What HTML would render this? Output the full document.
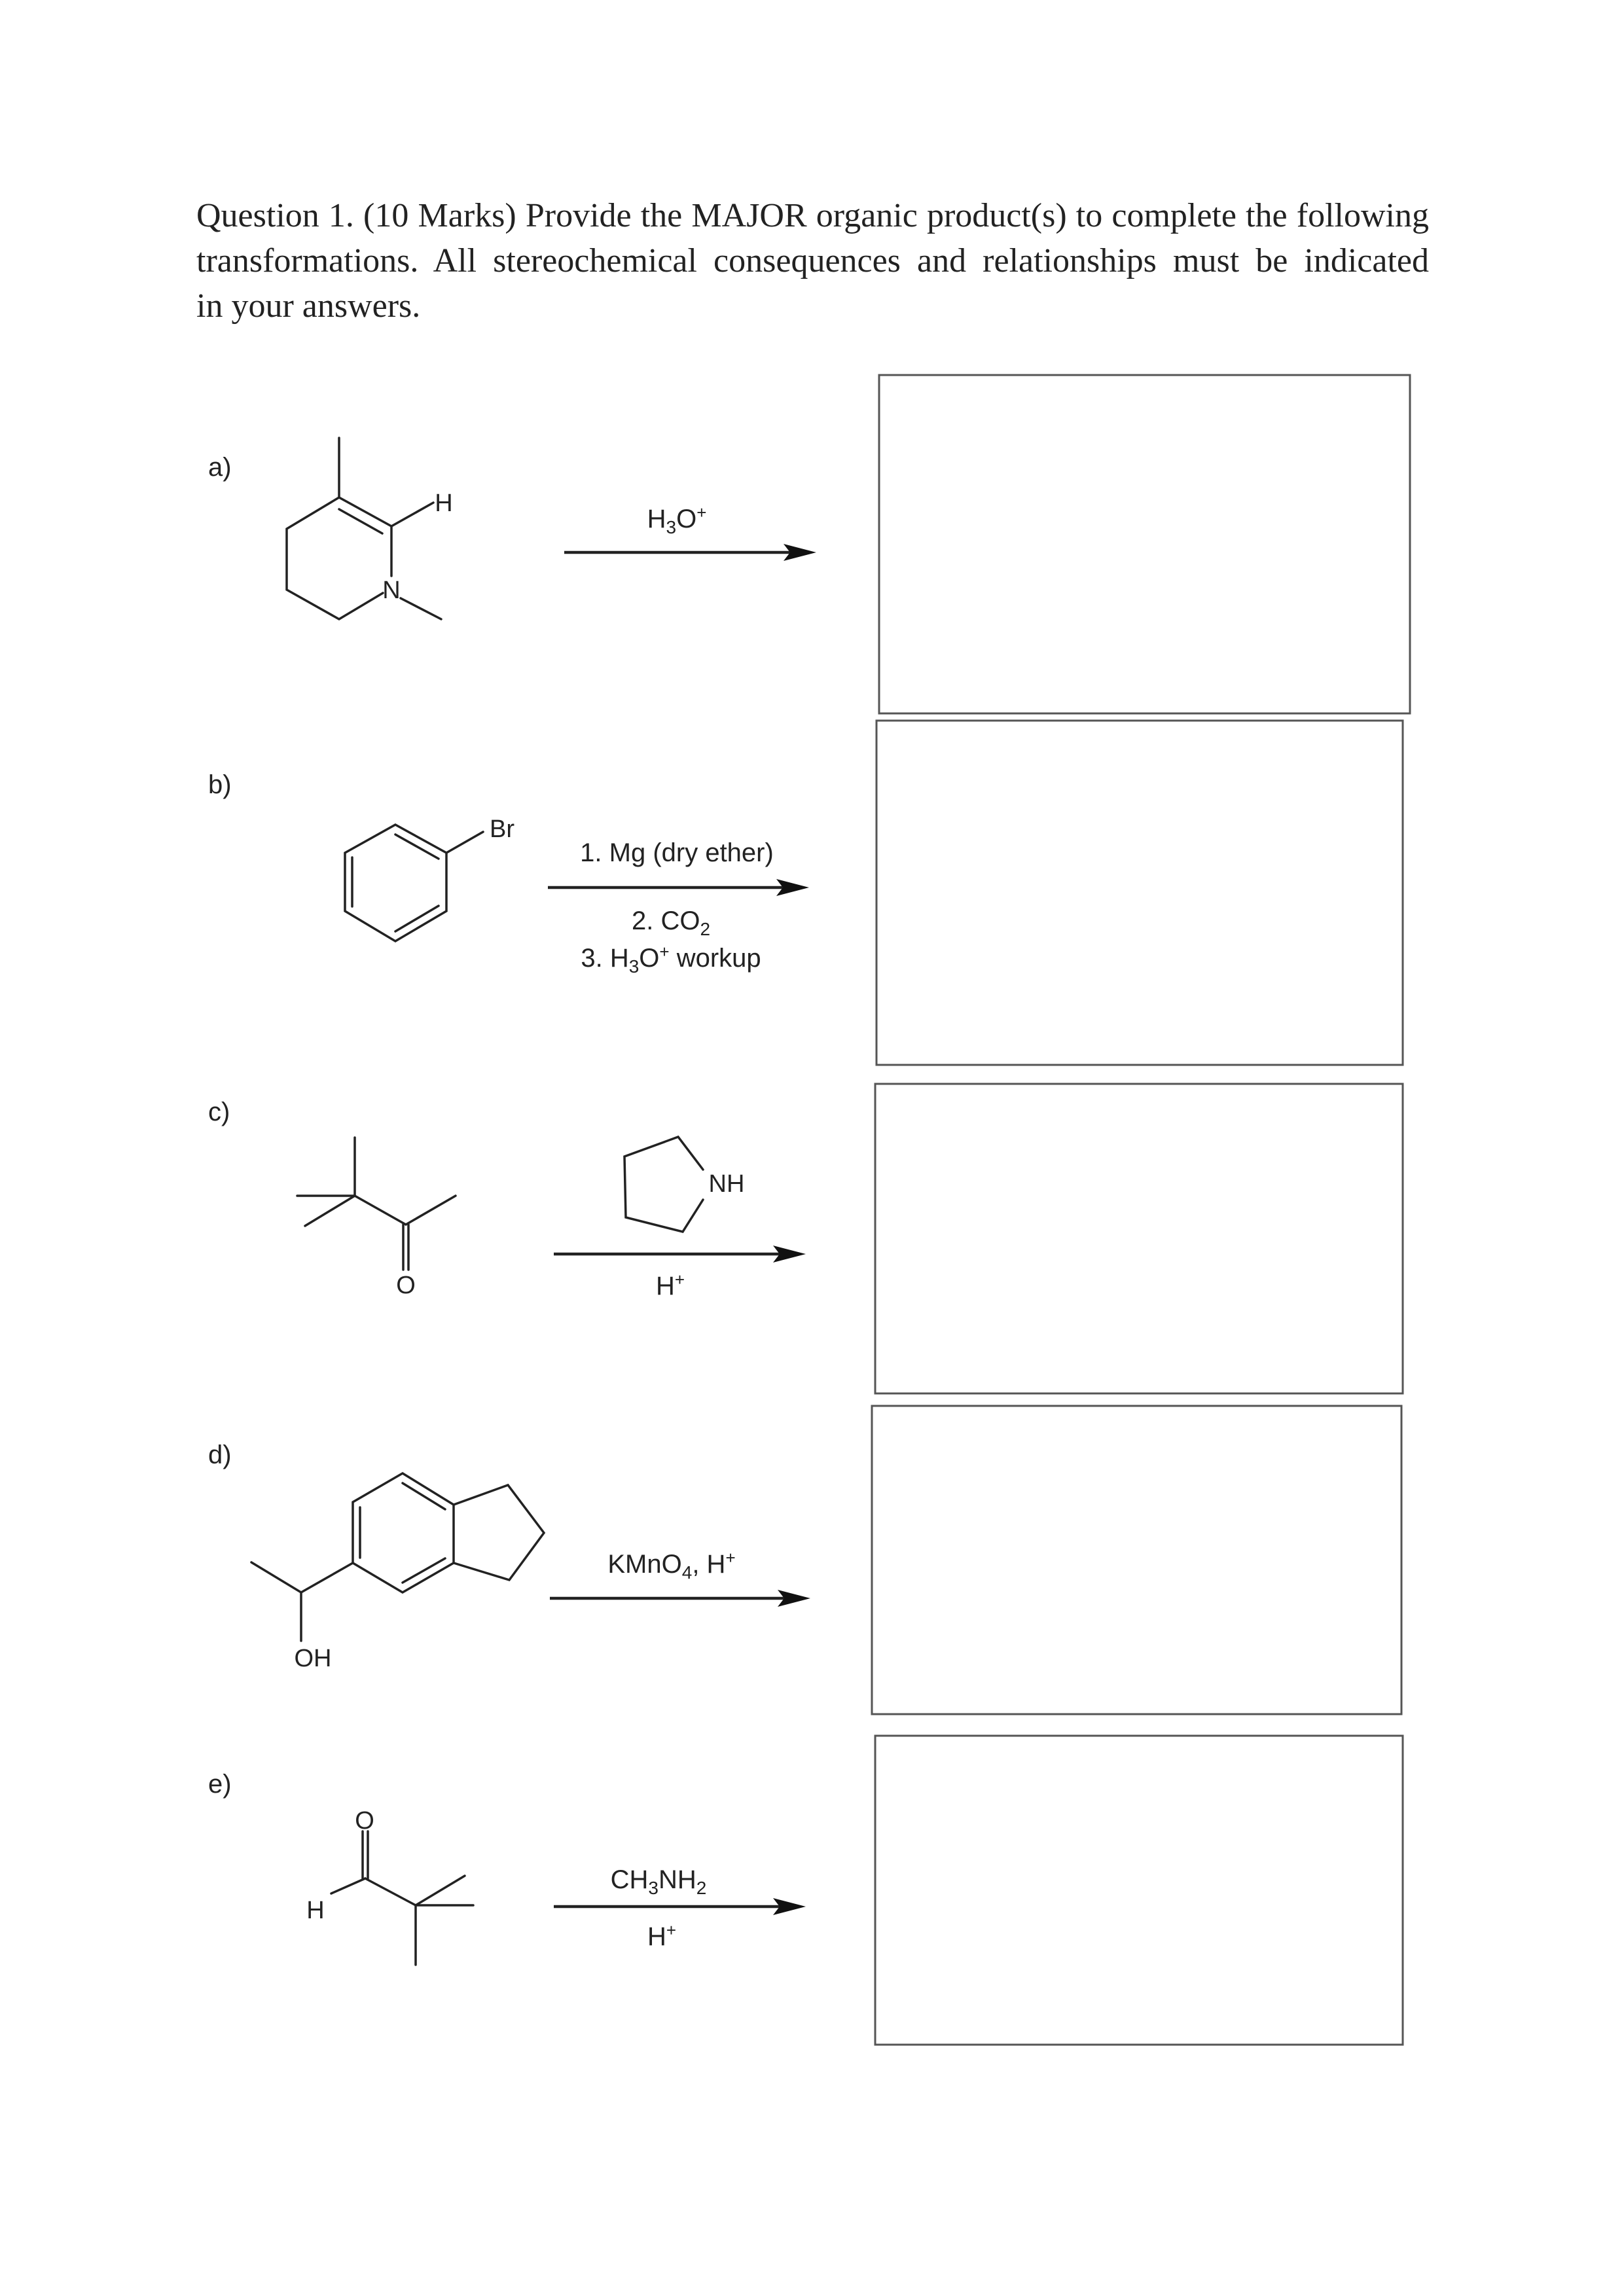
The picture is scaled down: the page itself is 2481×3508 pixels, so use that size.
<!DOCTYPE html>
<html><head><meta charset="utf-8"><style>
html,body{margin:0;padding:0;background:#fff;}
body{width:2481px;height:3508px;position:relative;overflow:hidden;}
.t{position:absolute;left:300px;width:1883px;font-family:"Liberation Serif",serif;font-size:52px;color:#222;white-space:nowrap;text-align:justify;text-align-last:justify;line-height:60px;}
</style></head><body>
<div class="t" style="top:300px">Question 1. (10 Marks) Provide the MAJOR organic product(s) to complete the following</div>
<div class="t" style="top:369px">transformations. All stereochemical consequences and relationships must be indicated</div>
<div class="t" style="top:438px;text-align-last:left">in your answers.</div>
<svg width="2481" height="3508" style="position:absolute;left:0;top:0" xmlns="http://www.w3.org/2000/svg">
<g fill="none" stroke="#555" stroke-width="3">
<rect x="1343" y="573" width="811" height="517"/>
<rect x="1339" y="1101" width="804" height="526"/>
<rect x="1337" y="1656" width="806" height="473"/>
<rect x="1332" y="2148" width="809" height="471"/>
<rect x="1337" y="2652" width="806" height="472"/>
</g>
<g font-family="Liberation Sans, sans-serif" font-size="40" fill="#222">
<text x="318" y="727">a)</text>
<text x="318" y="1212">b)</text>
<text x="318" y="1712">c)</text>
<text x="318" y="2236">d)</text>
<text x="318" y="2739">e)</text>
</g>
<g stroke="#222" stroke-width="4.5">
<line x1="862" y1="844" x2="1215" y2="844"/>
<line x1="837" y1="1356" x2="1205" y2="1356"/>
<line x1="846" y1="1916" x2="1200" y2="1916"/>
<line x1="840" y1="2442" x2="1205" y2="2442"/>
<line x1="846" y1="2913" x2="1200" y2="2913"/>
</g>
<g fill="#111">
<polygon points="1247,844 1197,831 1207,844 1197,857"/>
<polygon points="1236,1356 1186,1343 1196,1356 1186,1369"/>
<polygon points="1231,1916 1181,1903 1191,1916 1181,1929"/>
<polygon points="1238,2442 1188,2429 1198,2442 1188,2455"/>
<polygon points="1231,2913 1181,2900 1191,2913 1181,2926"/>
</g>
<g font-family="Liberation Sans, sans-serif" font-size="40" fill="#222" text-anchor="middle">
<text x="1034" y="806">H<tspan font-size="28" dy="9">3</tspan><tspan dy="-9">O</tspan><tspan font-size="26" dy="-14">+</tspan></text>
<text x="1034" y="1316">1. Mg (dry ether)</text>
<text x="1025" y="1420">2.  CO<tspan font-size="28" dy="9">2</tspan></text>
<text x="1025" y="1477">3.  H<tspan font-size="28" dy="9">3</tspan><tspan dy="-9">O</tspan><tspan font-size="26" dy="-14">+</tspan><tspan dy="14"> workup</tspan></text>
<text x="1024" y="1978">H<tspan font-size="26" dy="-14">+</tspan></text>
<text x="1026" y="2403">KMnO<tspan font-size="28" dy="9">4</tspan><tspan dy="-9">, H</tspan><tspan font-size="26" dy="-14">+</tspan></text>
<text x="1006" y="2885">CH<tspan font-size="28" dy="9">3</tspan><tspan dy="-9">NH</tspan><tspan font-size="28" dy="9">2</tspan></text>
<text x="1011" y="2972">H<tspan font-size="26" dy="-14">+</tspan></text>
</g>
<g stroke="#222" stroke-width="3.5" fill="none" stroke-linecap="round">
<polyline points="518,669 518,760 438,808 438,901 518,946 585,906"/>
<line x1="518" y1="760" x2="598" y2="804"/>
<line x1="518" y1="778" x2="584" y2="815"/>
<line x1="598" y1="804" x2="598" y2="880"/>
<line x1="598" y1="804" x2="662" y2="768"/>
<line x1="612" y1="914" x2="674" y2="946"/>
<polygon points="604,1260 682,1303 682,1392 604,1438 527,1392 527,1303"/>
<line x1="604" y1="1275" x2="670" y2="1312"/>
<line x1="538" y1="1310" x2="538" y2="1385"/>
<line x1="670" y1="1384" x2="604" y2="1423"/>
<line x1="682" y1="1303" x2="738" y2="1271"/>
<line x1="542" y1="1738" x2="542" y2="1827"/>
<line x1="454" y1="1827" x2="542" y2="1827"/>
<line x1="466" y1="1873" x2="542" y2="1827"/>
<polyline points="542,1827 620,1871 696,1827"/>
<line x1="616" y1="1871" x2="616" y2="1940"/>
<line x1="624" y1="1871" x2="624" y2="1940"/>
<polyline points="1074,1787 1036,1737 954,1767 956,1860 1043,1882 1074,1833"/>
<polygon points="615,2251 693,2299 693,2388 615,2433 539,2388 539,2295"/>
<line x1="615" y1="2266" x2="680" y2="2306"/>
<line x1="550" y1="2303" x2="550" y2="2380"/>
<line x1="680" y1="2381" x2="615" y2="2418"/>
<polyline points="693,2299 776,2269 831,2342 778,2414 693,2388"/>
<polyline points="384,2387 460,2433 539,2388"/>
<line x1="460" y1="2433" x2="460" y2="2507"/>
<line x1="554" y1="2798" x2="554" y2="2870"/>
<line x1="562" y1="2798" x2="562" y2="2870"/>
<line x1="558" y1="2870" x2="506" y2="2893"/>
<line x1="558" y1="2870" x2="635" y2="2911"/>
<line x1="635" y1="2911" x2="710" y2="2866"/>
<line x1="635" y1="2911" x2="723" y2="2911"/>
<line x1="635" y1="2911" x2="635" y2="3002"/>
</g>
<g font-family="Liberation Sans, sans-serif" font-size="38" fill="#222" text-anchor="middle">
<text x="678" y="781">H</text>
<text x="598" y="914">N</text>
<text x="767" y="1279">Br</text>
<text x="620" y="1976">O</text>
<text x="1110" y="1821">NH</text>
<text x="478" y="2546">OH</text>
<text x="557" y="2794">O</text>
<text x="482" y="2931">H</text>
</g>
</svg>
</body></html>
